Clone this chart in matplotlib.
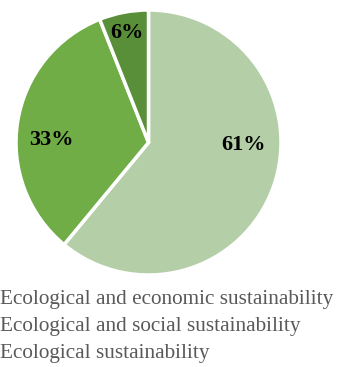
import numpy as np
import matplotlib.pyplot as plt

labels = ['Ecological and economic sustainability',
          'Ecological and social sustainability',
          'Ecological sustainability']
shares = [61, 33, 6]
colors = ['#B4CEA7', '#70AD47', '#5A8F3A']
# label spots (pie radius units), as placed in the original
label_xy = [(0.72, -0.02), (-0.73, 0.02), (-0.16, 0.83)]

W, H = 341, 367
fig = plt.figure(figsize=(W / 100, H / 100), dpi=100)

# pie centre and radius in pixels
cx, cy, r = 148.5, 142.5, 132.5
lim = 1.03
ax = fig.add_axes([(cx - r * lim) / W, (H - cy - r * lim) / H,
                   2 * r * lim / W, 2 * r * lim / H])

wedges, texts, autotexts = ax.pie(
    shares, colors=colors, startangle=90, counterclock=False,
    autopct='%d%%',
    wedgeprops=dict(edgecolor='white', linewidth=2.5),
    textprops=dict(family='Liberation Serif', fontsize=16,
                   fontweight='bold', color='black'))
ax.set_xlim(-lim, lim)
ax.set_ylim(-lim, lim)

for t, xy in zip(autotexts, label_xy):
    t.set_position(xy)

fig.legend(wedges, labels, loc='upper left', bbox_to_anchor=(0.001, 1 - 289 / H),
           frameon=False, handlelength=0, handletextpad=0,
           labelspacing=0.33, borderaxespad=0, borderpad=0,
           prop=dict(family='Liberation Serif', size=15.3), labelcolor='#595959')

fig.savefig('out.png', dpi=100)
